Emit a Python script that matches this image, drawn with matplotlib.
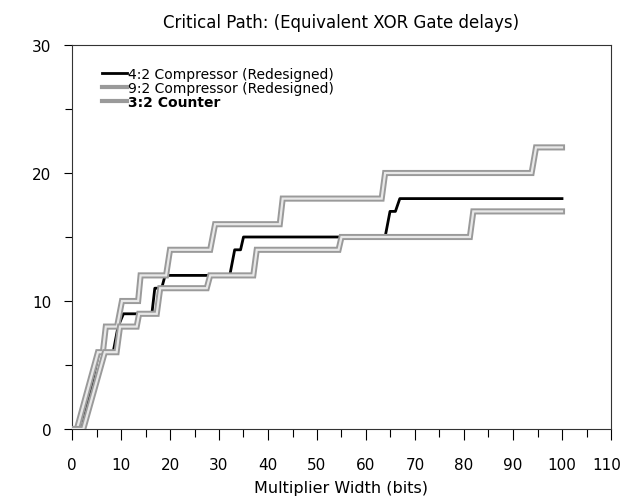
import matplotlib
matplotlib.use("Agg")
import matplotlib.pyplot as plt
import matplotlib.transforms as mtransforms
from matplotlib.ticker import MultipleLocator, FixedLocator
from matplotlib.lines import Line2D

# ---- data ----
x_42 = [0, 2, 5.5, 8.4, 9.4, 10.5, 16.3, 16.9, 18.3, 19.0, 32.2, 33.2, 34.4, 35.0, 63.9, 64.9, 66.0, 66.9, 100]
y_42 = [0, 0, 6, 6, 8, 9, 9, 11, 11, 12, 12, 14, 14, 15, 15, 17, 17, 18, 18]

x_92 = [0, 2.3, 6.7, 9.1, 9.8, 13.2, 13.7, 17.3, 18.0, 27.5, 28.2, 37.0, 37.7, 54.4, 55.0, 81.2, 81.9, 100]
y_92 = [0, 0, 6, 6, 8, 8, 9, 9, 11, 11, 12, 12, 14, 14, 15, 15, 17, 17]

x_32 = [0, 1, 5.3, 6.3, 6.9, 9.2, 10.2, 13.5, 14.0, 19.2, 20.0, 28.2, 29.2, 42.4, 43.0, 63.2, 63.9, 93.8, 94.7, 100]
y_32 = [0, 0, 6, 6, 8, 8, 10, 10, 12, 12, 14, 14, 16, 16, 18, 18, 20, 20, 22, 22]

labels = ["4:2 Compressor (Redesigned)", "9:2 Compressor (Redesigned)", "3:2 Counter"]
title = "Critical Path: (Equivalent XOR Gate delays)"
xlabel = "Multiplier Width (bits)"
xticks = list(range(0, 111, 10))
yticks = [0, 10, 20, 30]

plt.rcParams['font.family'] = ['DejaVu Sans']

fig = plt.figure(figsize=(6.21, 5.02), dpi=100)
ax = fig.add_axes([72/621, 1-430/502, (611-72)/621, (430-46)/502])

GREY_OUT = '#9a9a9a'
GREY_IN = '#e8e8e8'

def grey_line(x, y, z):
    ax.plot(x, y, color=GREY_OUT, lw=4.4, solid_joinstyle='miter', zorder=z)
    ax.plot(x, y, color=GREY_IN, lw=1.6, solid_joinstyle='miter', zorder=z + 0.1)

ax.plot(x_42, y_42, color='black', lw=2.0, zorder=2)
grey_line(x_32, y_32, 3)
grey_line(x_92, y_92, 4)

ax.set_xlim(0, 110)
ax.set_ylim(0, 30)
ax.xaxis.set_major_locator(FixedLocator(xticks))
ax.xaxis.set_minor_locator(MultipleLocator(5))
ax.yaxis.set_major_locator(FixedLocator(yticks))
ax.yaxis.set_minor_locator(MultipleLocator(5))
ax.tick_params(axis='x', which='major', direction='out', length=8, width=0.8, pad=12, labelsize=11)
ax.tick_params(axis='x', which='minor', direction='out', length=6, width=0.8)
ax.tick_params(axis='y', which='major', direction='out', length=6, width=0.8, pad=9, labelsize=11)
ax.tick_params(axis='y', which='minor', direction='out', length=5, width=0.8)
for s in ax.spines.values():
    s.set_linewidth(0.8)
    s.set_color('#333333')

fig.canvas.draw()
last = ax.get_xticklabels()[-1]
last.set_transform(last.get_transform() + mtransforms.ScaledTranslation(-4/100, 0, fig.dpi_scale_trans))

ax.set_title(title, fontsize=12, pad=13)
ax.set_xlabel(xlabel, fontsize=11.5, labelpad=6)

h1 = Line2D([], [], color='black', lw=2.0)
h2 = Line2D([], [], color=GREY_OUT, lw=3.0)
h3 = Line2D([], [], color=GREY_OUT, lw=3.0)
leg = ax.legend([h1, h2, h3], labels, loc='upper left', bbox_to_anchor=(0.0557, 0.943),
                frameon=False, handlelength=1.8, handletextpad=0.05, labelspacing=0.0,
                borderpad=0, borderaxespad=0, fontsize=10)
leg.get_texts()[2].set_fontweight('bold')

fig.savefig("out.png", dpi=100)
